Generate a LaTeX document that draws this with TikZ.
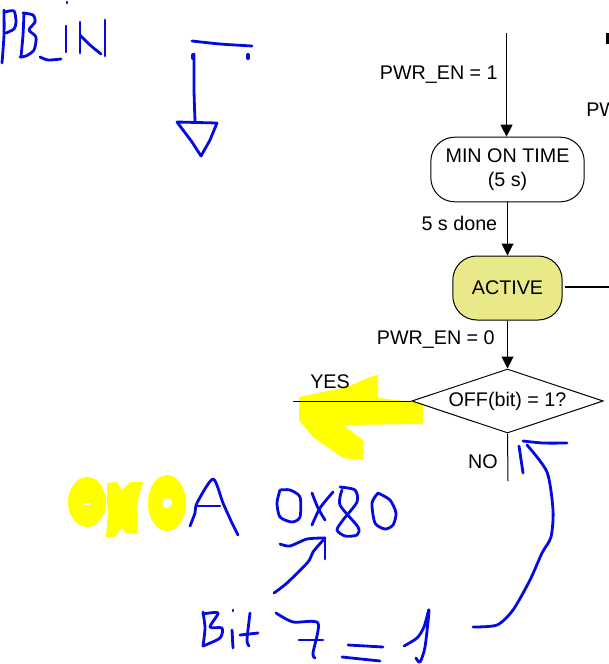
\documentclass[tikz,border=0pt]{standalone}
\usepackage{fontspec}
\setmainfont{Liberation Sans}
\usetikzlibrary{arrows.meta,shapes.geometric}
\definecolor{inkblue}{RGB}{5,10,225}
\definecolor{marker}{RGB}{255,255,0}
\definecolor{activefill}{RGB}{233,233,138}
\tikzset{
  txt/.style={font=\fontsize{14.8}{17.5}\selectfont,inner sep=0pt,align=center,text=black},
  statebox/.style={draw=black,line width=0.75pt,rounded corners=18pt,inner sep=0pt,align=center,font=\fontsize{14.8}{18}\selectfont},
  decide/.style={draw=black,line width=0.75pt,diamond,aspect=3,inner sep=0pt,font=\fontsize{14.8}{17.5}\selectfont},
  flow/.style={draw=black,line width=0.75pt},
  flowarrow/.style={flow,-{Triangle[length=9pt,width=9pt]}},
  pen/.style={draw=inkblue,line width=2.1pt,line cap=round,line join=round},
  hi/.style={fill=marker,draw=none}
}
\newcommand{\stroke}[1]{\draw[pen] plot[smooth,tension=0.45] coordinates {#1};}
\begin{document}
\begin{tikzpicture}[x=0.75pt,y=-0.75pt]
\useasboundingbox (0,0) rectangle (609,664);
\clip (0,0) rectangle (609,664);
% yellow marker
\fill[hi] (378,375) -- (378,398) -- (423,403) -- (423,424) -- (343,425) -- (363,440) -- (363,460) -- (343,458) -- (313,437) -- (299,420) -- (299,397) -- (347,387) -- (370,377) -- cycle;
\fill[hi] (87,502) ellipse [x radius=19,y radius=25];
\fill[white] (87,504) ellipse [x radius=4,y radius=1];
\fill[hi] (107,483) -- (117,482) -- (122,490) -- (130,482) -- (143,482) -- (137,503) -- (137,533) -- (125,533) -- (122,527) -- (115,537) -- (106,537) -- (108,513) -- (107,503) -- cycle;
\fill[hi] (167,503) ellipse [x radius=19,y radius=28];
\fill[white] (167,503) ellipse [x radius=5,y radius=5];
% flow chart
\coordinate (top) at (506.5,33);
\coordinate (yesend) at (293,401);
\coordinate (noend) at (508,481);
\coordinate (offr) at (609,287);
\coordinate (activer) at (565,287);
\node[statebox,minimum width=115pt,minimum height=48.5pt] (minon) at (507.5,169.5) {MIN ON TIME\\(5 s)};
\node[statebox,fill=activefill,minimum width=82pt,minimum height=48pt] (active) at (507.5,288) {ACTIVE};
\node[decide,minimum width=143.5pt,minimum height=48pt] (off) at (507.5,401) {OFF(bit) = 1?};
\draw[flowarrow] (top) -- (top |- minon.north);
\draw[flowarrow] (minon) -- (active);
\draw[flowarrow] (active) -- (off);
\draw[flow] (off.west) -- (yesend);
\draw[flow] (off.south) -- (noend);
\draw[black,line width=2.1pt] (activer) -- (offr);
\fill[black] (606,33) rectangle (610,44);
\node[txt,anchor=east] (l1) at (498,75) {PWR\_EN = 1};
\node[txt,anchor=east] (l2) at (497.5,223) {5 s done};
\node[txt,anchor=east] (l3) at (495,340) {PWR\_EN = 0};
\node[txt,anchor=west] (l4) at (310,382) {YES};
\node[txt,anchor=east] (l5) at (498,462) {NO};
\node[txt,anchor=west] (l6) at (586,110) {PW};
% handwriting: PB_IN
\stroke{(4,10)(4,35)(2,63)}
\stroke{(5,12)(14,11)(16,22)(14,29)(6,33)}
\stroke{(24,13)(23,35)(21,57)}
\stroke{(23,13)(33,15)(35,22)(29,30)(36,37)(34,50)(26,56)(20,57)}
\stroke{(40,57)(48,60)(61,59)}
\stroke{(66,26)(66,52)}
\stroke{(67,2)(67,3)}
\stroke{(80,22)(80,53)}
\stroke{(80,35)(90,45)(101,54)}
\stroke{(105,20)(105,56)}
% switch and ground
\stroke{(192,41)(220,44)(252,46)}
\draw[pen,line width=3pt] (248,55) -- (248,58);
\draw[pen,line width=3pt] (193,55) -- (193,58);
\stroke{(194,54)(194,90)(195,121)}
\draw[pen] (177,122) -- (217,123) -- (210,140) -- (201,156) -- (192,142) -- cycle;
% A
\stroke{(190,526)(195,513)(197,503)(213,479)(223,503)(232,523)(238,535)}
\stroke{(197,506)(220,506)}
% 0x80
\stroke{(280,490)(277,503)(280,517)(292,522)(300,517)(300,497)(290,490)(280,490)}
\stroke{(312,493)(318,508)(325,520)}
\stroke{(333,492)(320,508)(312,525)}
\stroke{(340,487)(355,490)(357,502)(343,520)(337,530)(345,536)(357,535)(358,527)(340,505)(342,490)}
\stroke{(378,493)(372,503)(375,523)(385,529)(393,525)(396,513)(390,500)(378,493)}
% small arrow
\stroke{(280,544)(290,546)(307,539)(325,538)}
\stroke{(325,538)(325,559)}
\stroke{(274,593)(287,583)(308,562)(313,552)(325,538)}
% Bit 7 = 1
\stroke{(203,612)(205,628)(203,646)}
\stroke{(203,614)(218,613)(210,627)(222,628)(220,638)(203,646)}
\stroke{(232,630)(233,648)}
\stroke{(233,610)(233,611)}
\stroke{(250,613)(247,640)(249,646)}
\stroke{(240,635)(258,633)}
\stroke{(276,613)(293,622)(318,623)(313,653)(315,658)}
\stroke{(299,640)(323,640)}
\stroke{(348,645)(383,647)}
\stroke{(342,657)(380,661)}
\stroke{(404,646)(417,638)(424,627)(429,610)(425,647)(420,662)(416,658)}
% long arrow
\stroke{(473,627)(497,625)(513,610)(530,580)(542,553)(551,537)(553,510)(547,472)(527,445)}
\stroke{(523,441)(543,443)(567,443)}
\stroke{(519,446)(523,473)}
\end{tikzpicture}
\end{document}
